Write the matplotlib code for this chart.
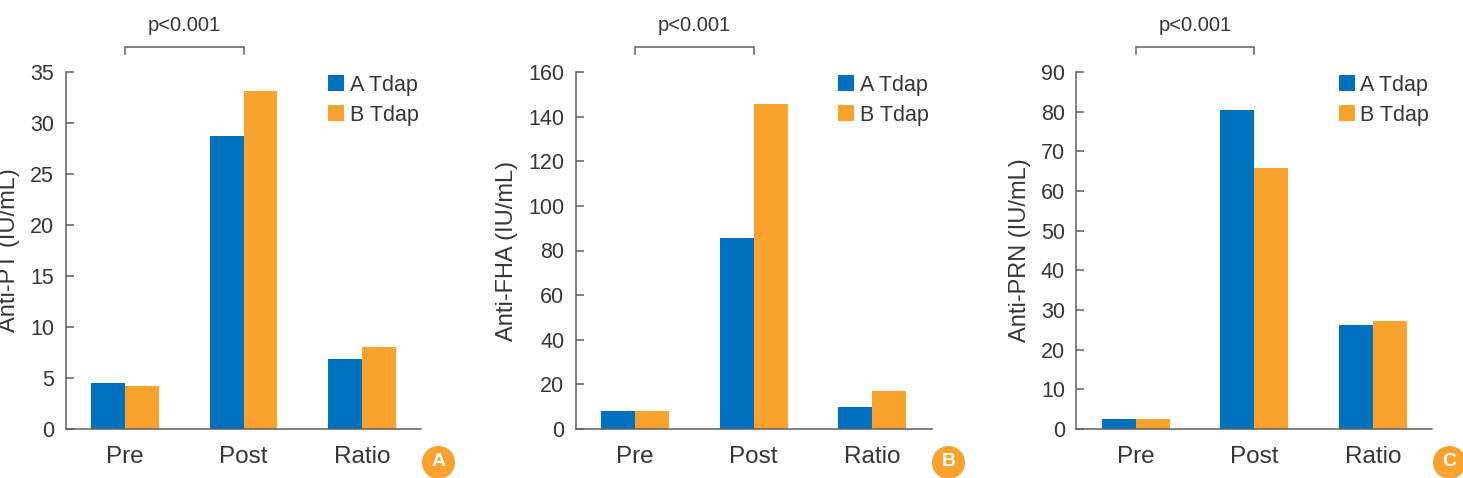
import numpy as np
import matplotlib
matplotlib.use("Agg")
import matplotlib.pyplot as plt

# ---- data ----
categories = ["Pre", "Post", "Ratio"]
series_names = ["A Tdap", "B Tdap"]

pt_a = [4.55, 28.7, 6.9]
pt_b = [4.25, 33.1, 8.0]

fha_a = [7.9, 85.7, 10.0]
fha_b = [7.9, 145.7, 16.9]

prn_a = [2.6, 80.5, 26.3]
prn_b = [2.6, 65.7, 27.3]

ylabels = ["Anti-PT (IU/mL)", "Anti-FHA (IU/mL)", "Anti-PRN (IU/mL)"]
ymaxs = [35, 160, 90]
ysteps = [5, 20, 10]
panel_letters = ["A", "B", "C"]
p_text = "p<0.001"

# ---- style ----
BLUE = "#0071BF"
ORANGE = "#F9A22D"
TEXT = "#363636"
AXC = "#5f5f5f"

plt.rcParams["font.family"] = ["Liberation Sans", "DejaVu Sans"]

fig = plt.figure(figsize=(14.63, 4.78), dpi=100)
lefts = [65.5 / 1463, 575.7 / 1463, 1076.3 / 1463]
bottom = (478 - 429) / 478
width = 356 / 1463
height = 357 / 478

data = [(pt_a, pt_b), (fha_a, fha_b), (prn_a, prn_b)]
x = np.arange(len(categories))
bw = 0.286

for i, ((va, vb), yl, ymax, ystep, letter) in enumerate(
        zip(data, ylabels, ymaxs, ysteps, panel_letters)):
    ax = fig.add_axes([lefts[i], bottom, width, height])
    b1 = ax.bar(x - bw / 2, va, width=bw, color=BLUE, label=series_names[0])
    b2 = ax.bar(x + bw / 2, vb, width=bw, color=ORANGE, label=series_names[1])

    ax.set_xlim(-0.5, 2.5)
    ax.set_ylim(0, ymax)
    ax.set_yticks(np.arange(0, ymax + ystep / 2, ystep))
    ax.set_xticks(x)
    ax.set_xticklabels(categories)

    for s in ["top", "right"]:
        ax.spines[s].set_visible(False)
    for s in ["left", "bottom"]:
        ax.spines[s].set_color(AXC)
        ax.spines[s].set_linewidth(1.1)

    ax.tick_params(axis="y", direction="in", length=5.8, width=1.1,
                   color=AXC, labelsize=15.5, labelcolor=TEXT, pad=8.2)
    ax.tick_params(axis="x", length=0, labelsize=17.5, labelcolor=TEXT, pad=12)

    ax.set_ylabel(yl, fontsize=17, color=TEXT, labelpad=7)

    leg = ax.legend(handles=[b1, b2], labels=series_names, loc="upper left",
                    bbox_to_anchor=(0.737, 0.992), frameon=False,
                    fontsize=15.5, handlelength=0.76, handleheight=0.76,
                    handletextpad=0.25, labelspacing=0.42, borderpad=0,
                    borderaxespad=0)
    for t in leg.get_texts():
        t.set_color(TEXT)

    # significance bracket between Pre and Post
    tr = ax.get_xaxis_transform()
    ax.plot([x[0], x[0], x[1], x[1]], [1.050, 1.070, 1.070, 1.050],
            transform=tr, color=AXC, lw=1.1, clip_on=False,
            solid_joinstyle="miter")
    ax.text((x[0] + x[1]) / 2, 1.115, p_text, transform=tr, ha="center",
            va="baseline", fontsize=14.5, color=TEXT)

    # panel badge
    ax.plot([1.047], [-0.092], marker="o", ms=23.8, color=ORANGE, mec="none",
            transform=ax.transAxes, clip_on=False)
    ax.text(1.047, -0.092, letter, transform=ax.transAxes, ha="center",
            va="center", color="white", fontsize=14, fontweight="bold")

fig.savefig("out.png", dpi=100)
